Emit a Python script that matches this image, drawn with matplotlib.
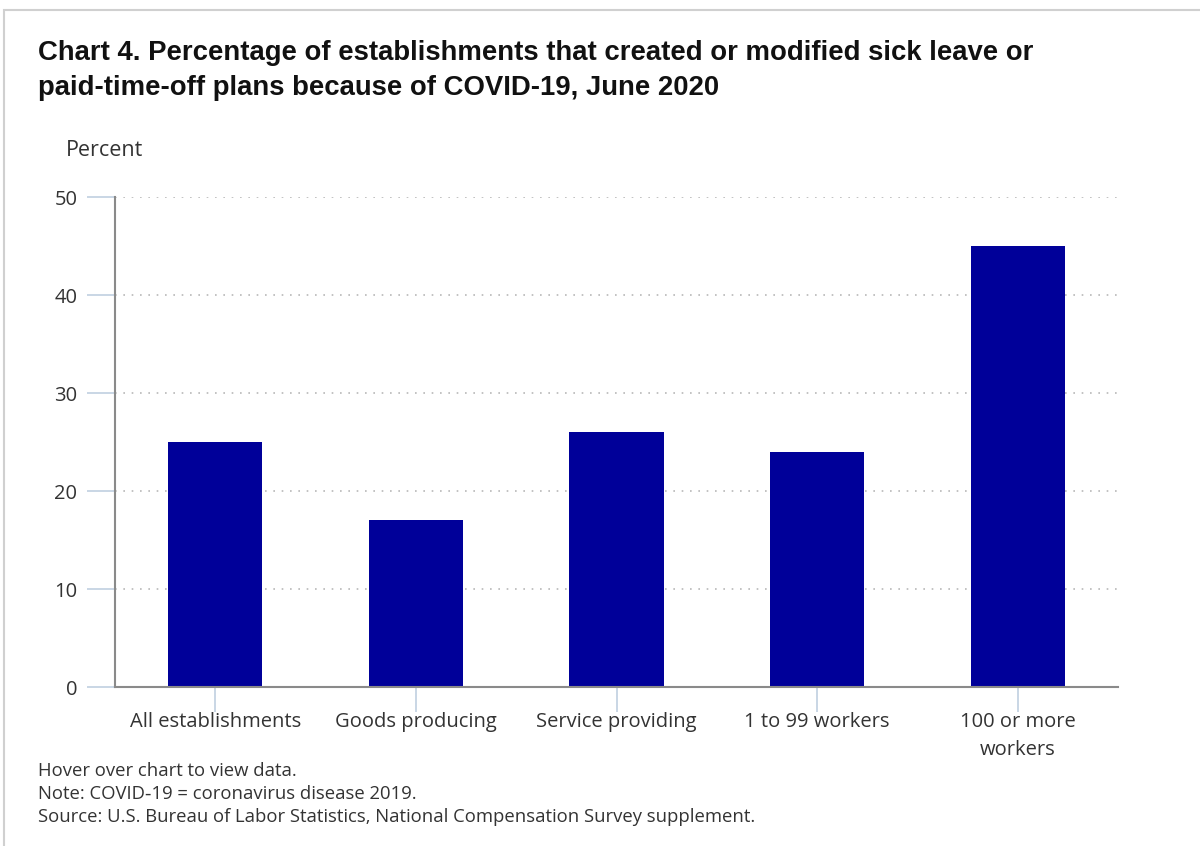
"""
Chart 4: establishments that created or modified sick leave / PTO plans
because of COVID-19, June 2020 (BLS NCS supplement).
"""

import matplotlib.pyplot as plt
from matplotlib.patches import Rectangle

plt.rcParams.update({
    'font.family': ['Open Sans', 'DejaVu Sans'],
    'font.size': 12,
})

# =============================================================================
# Data
# =============================================================================
categories = [
    'All establishments',
    'Goods producing',
    'Service providing',
    '1 to 99 workers',
    '100 or more\nworkers',
]
percent = [25, 17, 26, 24, 45]
y_ticks = [0, 10, 20, 30, 40, 50]

BAR_COLOR = '#000099'
AXIS_COLOR = '#8a8a8a'
TICK_COLOR = '#c0d0e0'
TEXT_COLOR = '#333333'

fig = plt.figure(figsize=(12, 8.46), dpi=100)
ax = fig.add_axes([0.0958, 0.1879, 0.8359, 0.5792])

x = range(len(categories))
ax.bar(x, percent, width=0.47, color=BAR_COLOR, zorder=3)

ax.set_xlim(-0.5, len(categories) - 0.5)
ax.set_ylim(0, 50)
ax.set_yticks(y_ticks)
ax.set_xticks(list(x))
ax.set_xticklabels(categories, fontsize=14.5, color=TEXT_COLOR, linespacing=1.55)
ax.tick_params(axis='y', labelsize=14.5, labelcolor=TEXT_COLOR,
               color=TICK_COLOR, length=20, width=1.2, pad=7)
ax.tick_params(axis='x', color=TICK_COLOR, length=18, width=1.2, pad=0)

ax.grid(axis='y', linestyle=(0, (1, 4)), color='#b8b8b8', linewidth=1.2,
        zorder=0)
ax.set_axisbelow(True)

for side in ('top', 'right'):
    ax.spines[side].set_visible(False)
for side in ('left', 'bottom'):
    ax.spines[side].set_color(AXIS_COLOR)
    ax.spines[side].set_linewidth(1.5)
    ax.spines[side].set_zorder(4)

# Title and labels
fig.text(0.032, 0.953,
         'Chart 4. Percentage of establishments that created or modified sick leave or\n'
         'paid-time-off plans because of COVID-19, June 2020',
         fontsize=19.8, fontweight='bold', family='Liberation Sans',
         color='#111111', ha='left', va='top', linespacing=1.45)
fig.text(0.055, 0.822, 'Percent', fontsize=15.5, color=TEXT_COLOR,
         ha='left', va='center')

notes = [
    'Hover over chart to view data.',
    'Note: COVID\u201119 = coronavirus disease 2019.',
    'Source: U.S. Bureau of Labor Statistics, National Compensation Survey supplement.',
]
for i, line in enumerate(notes):
    fig.text(0.032, 0.089 - i * 0.0272, line, fontsize=13.3,
             color=TEXT_COLOR, ha='left', va='center')

# light page border
fig.patches.append(Rectangle((0.003, -0.01), 1.2, 0.998,
                             transform=fig.transFigure, fill=False,
                             edgecolor='#d0d0d0', linewidth=1.5))

fig.savefig('out.png', dpi=100)
